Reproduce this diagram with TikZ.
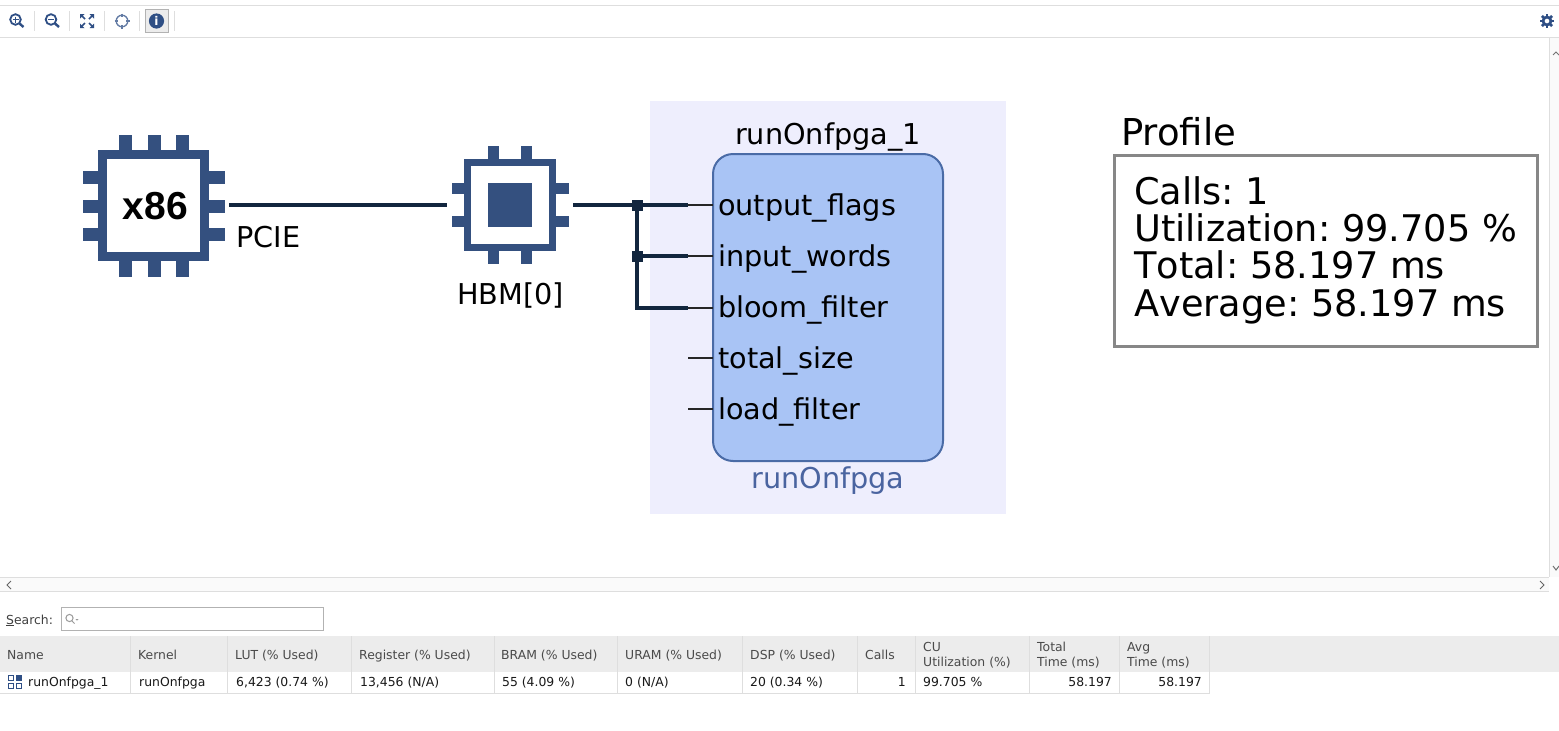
\documentclass[tikz,border=0pt]{standalone}
\usepackage{fontspec}
\setmainfont{DejaVu Sans}
\newfontfamily\archfont{Liberation Sans}
\newfontfamily\nokernfont[Kerning=Off]{DejaVu Sans}
\definecolor{chipblue}{HTML}{34507F}
\definecolor{wirenavy}{HTML}{12263E}
\definecolor{panelbg}{HTML}{EEEEFD}
\definecolor{blockfill}{HTML}{A9C4F5}
\definecolor{blockedge}{HTML}{4A6BA6}
\definecolor{kerneltext}{HTML}{4A64A0}
\definecolor{uiline}{HTML}{DEDEDE}
\definecolor{headbg}{HTML}{ECECEC}
\definecolor{headtext}{HTML}{4A4A4A}
\definecolor{iconblue}{HTML}{2F4F85}
\newcommand{\fsz}[1]{\fontsize{#1}{#1}\selectfont}
\frenchspacing
\tikzset{
  pin/.style={fill=chipblue,draw=none},
  wire/.style={draw=wirenavy,line width=4pt},
  stub/.style={draw=black!85,line width=2pt},
  junction/.style={fill=wirenavy,draw=none,minimum size=11pt,inner sep=0pt,outer sep=0pt},
  portlabel/.style={anchor=base west,inner sep=0pt,font=\fsz{28.7}},
  biglabel/.style={inner sep=0pt,font=\fsz{28.7}},
  tabletext/.style={anchor=base west,inner sep=0pt,font=\fsz{12.4},text=black!90},
  tablehead/.style={anchor=base west,inner sep=0pt,font=\fsz{12.4},text=headtext},
  tablenum/.style={anchor=base east,inner sep=0pt,font=\fsz{12.4},text=black!90},
  sep/.style={draw=uiline,line width=1pt},
  icon/.style={draw=iconblue,line width=1.8pt},
}
\begin{document}
\begin{tikzpicture}[x=1pt,y=-1pt]
\useasboundingbox (0,0) rectangle (1559,731);
\fill[white] (0,0) rectangle (1559,731);
% toolbar
\draw[draw=uiline,line width=1.5pt] (0,5.5) -- (1559,5.5);
\draw[draw=uiline,line width=1.5pt] (0,37.5) -- (1559,37.5);
\foreach \x in {34.5,69.5,104.5,139.5,174.5} \draw[sep] (\x,11) -- (\x,31);
\draw[fill=headbg,draw=black!30,line width=1pt] (145.5,9.5) rectangle (168.5,32.5);
% zoom in
\draw[icon] (15.5,19.5) circle (5.3);
\draw[icon,line width=2.4pt] (19.5,23.5) -- (23.5,27);
\draw[iconblue,line width=1.4pt] (12.5,19.5) -- (18.5,19.5) (15.5,16.5) -- (15.5,22.5);
% zoom out
\draw[icon] (51,19.5) circle (5.3);
\draw[icon,line width=2.4pt] (55,23.5) -- (59,27);
\draw[iconblue,line width=1.4pt] (48,19.5) -- (54,19.5);
% fit
\foreach \sx/\sy in {1/1,1/-1,-1/1,-1/-1}{
  \fill[iconblue] ({87+\sx*7},{21+\sy*7}) -- ({87+\sx*2.5},{21+\sy*7}) -- ({87+\sx*7},{21+\sy*2.5}) -- cycle;
  \draw[iconblue,line width=1.6pt] ({87+\sx*5.5},{21+\sy*5.5}) -- ({87+\sx*2},{21+\sy*2});
}
% crosshair
\draw[draw=iconblue!75,line width=1.3pt] (122,21) circle (5.8);
\draw[draw=iconblue!75,line width=1.3pt] (122,13.5) -- (122,17) (122,25) -- (122,28.5) (114.5,21) -- (118,21) (126,21) -- (129.5,21);
% info
\fill[iconblue] (156.5,21) circle (7.6);
\node[inner sep=0pt,text=white,font=\fsz{12}\bfseries] (infoi) at (156.5,21) {i};
% gear
\fill[iconblue,even odd rule] (1547,21) circle (5.4) (1547,21) circle (2.5);
\foreach \a in {0,45,...,315}
  \fill[iconblue,rotate around={\a:(1547,21)}] (1545.6,13.8) rectangle (1548.4,17);
% scrollbars
\fill[black!2] (1549,38) rectangle (1559,577);
\draw[sep] (1549,38) -- (1549,577);
\draw[draw=black!55,line width=1pt] (1553,55) -- (1556,52) -- (1559,55);
\draw[draw=black!55,line width=1pt] (1553,566) -- (1556,570) -- (1559,566);
\fill[black!2] (0,578) rectangle (1549,591);
\draw[sep] (0,577.5) -- (1549,577.5) (0,591.5) -- (1549,591.5);
\draw[draw=black!60,line width=1pt] (11,581) -- (7,585) -- (11,589);
\draw[draw=black!60,line width=1pt] (1540,581) -- (1544,585) -- (1540,589);
% panel
\fill[panelbg] (650,101) rectangle (1006,514);
% x86 chip
\foreach \x in {119,148,176}{
  \fill[pin] (\x,135) rectangle (\x+13,151);
  \fill[pin] (\x,251) rectangle (\x+13,277);
}
\foreach \y in {171,200,228}{
  \fill[pin] (83,\y) rectangle (99,\y+13);
  \fill[pin] (208,\y) rectangle (225,\y+13);
}
\node[draw=chipblue,fill=white,line width=9pt,minimum size=102pt,inner sep=0pt,outer sep=0pt] (x86) at (153.5,205.5) {};
\node[inner sep=0pt,font=\archfont\bfseries\fsz{39}] (x86text) at (155.5,206.5) {x86};
% HBM chip
\foreach \x in {488,521}{
  \fill[pin] (\x,146) rectangle (\x+11,160);
  \fill[pin] (\x,250) rectangle (\x+11,264);
}
\foreach \y in {183,216}{
  \fill[pin] (452,\y) rectangle (465,\y+11);
  \fill[pin] (555,\y) rectangle (569,\y+11);
}
\node[draw=chipblue,fill=white,line width=7pt,minimum size=85pt,inner sep=0pt,outer sep=0pt] (hbm) at (510,205) {};
\node[fill=chipblue,draw=none,minimum size=44pt,inner sep=0pt] (hbmcore) at (510,205) {};
% labels of chips
\node[anchor=base west,biglabel] (pcielabel) at (236,247) {PCIE};
\node[anchor=base,biglabel] (hbmlabel) at (510.5,304) {HBM[0]};
% kernel block
\node[draw=blockedge,fill=blockfill,line width=2pt,rounded corners=20pt,minimum width=230pt,minimum height=307pt,inner sep=0pt,outer sep=0pt] (block) at (828,307.5) {};
\node[anchor=base,biglabel] (inst) at (828,144) {runOnfpga\_1};
\node[anchor=base,biglabel,text=kerneltext] (kern) at (828,488) {runOnfpga};
% ports
\node[portlabel] (pa) at (718,215) {output\_flags};
\node[portlabel] (pb) at (718,266) {input\_words};
\node[portlabel] (pc) at (718,317) {bloom\_filter};
\node[portlabel] (pd) at (718,368) {total\_size};
\node[portlabel] (pe) at (718,419) {load\_filter};
\coordinate (sa) at (688,205);
\coordinate (sb) at (688,256);
\coordinate (sc) at (688,307.5);
\coordinate (sd) at (688,358);
\coordinate (se) at (688,409);
\foreach \s in {sa,sb,sc,sd,se} \draw[stub] (\s) -- (\s -| block.west);
% wires
\coordinate (pcieA) at (229,205);
\coordinate (pcieB) at (447,205);
\coordinate (hbmout) at (573,205);
\coordinate (elbow) at (637,307.5);
\node[junction] (j1) at (637,205) {};
\node[junction] (j2) at (637,256) {};
\draw[wire] (pcieA) -- (pcieB);
\draw[wire] (hbmout) -- (sa);
\draw[wire] (j2.center) -- (sb);
\draw[wire,line join=miter] (j1.center) -- (elbow) -- (sc);
% profile
\node[anchor=base west,inner sep=0pt,font=\fsz{37}] (proftitle) at (1121,145) {Profile};
\node[draw=black!47,line width=3pt,minimum width=423pt,minimum height=191pt,inner sep=0pt,outer sep=0pt] (profbox) at (1326,251) {};
\node[anchor=base west,inner sep=0pt,align=left,font=\nokernfont\fontsize{36.7}{37.3}\selectfont] (profbody) at (1134,316) {Calls: 1\\Utilization: 99.705 \%\\Total: 58.197 ms\\Average: 58.197 ms};
% search
\node[anchor=base west,inner sep=0pt,font=\fsz{12.4},text=black!75] (searchlbl) at (6,624) {\underline{S}earch:};
\node[draw=black!30,line width=1pt,minimum width=262pt,minimum height=23pt,inner sep=0pt,outer sep=0pt] (searchbox) at (192,618.5) {};
\draw[draw=black!40,line width=1pt] (69.5,618) circle (3.6) (72,621) -- (74.5,623.5);
\fill[black!40] (75.5,619) -- (78.5,619) -- (77,620.5) -- cycle;
% table
\fill[headbg] (0,636) rectangle (1559,672);
\foreach \x in {130.5,227.5,351.5,494.5,617.5,742.5,857.5,915.5,1029.5,1119.5,1209.5}
  \draw[sep] (\x,636) -- (\x,693);
\draw[sep] (0,693.5) -- (1210,693.5);
\node[tablehead] (h1) at (7,659) {Name};
\node[tablehead] (h2) at (138,659) {Kernel};
\node[tablehead] (h3) at (235,659) {LUT (\% Used)};
\node[tablehead] (h4) at (359,659) {Register (\% Used)};
\node[tablehead] (h5) at (501,659) {BRAM (\% Used)};
\node[tablehead] (h6) at (625,659) {URAM (\% Used)};
\node[tablehead] (h7) at (750,659) {DSP (\% Used)};
\node[tablehead] (h8) at (865,659) {Calls};
\node[tablehead] (h9a) at (923,651) {CU};
\node[tablehead] (h9b) at (923,666) {Utilization (\%)};
\node[tablehead] (h10a) at (1037,651) {Total};
\node[tablehead] (h10b) at (1037,666) {Time (ms)};
\node[tablehead] (h11a) at (1127,651) {Avg};
\node[tablehead] (h11b) at (1127,666) {Time (ms)};
\draw[draw=iconblue,line width=1pt] (8.5,675.5) rectangle (13.5,680.5) (8.5,683.5) rectangle (13.5,688.5) (16.5,683.5) rectangle (21.5,688.5);
\fill[iconblue] (16,675) rectangle (22,681);
\node[tabletext] (c1) at (28,686) {runOnfpga\_1};
\node[tabletext] (c2) at (139,686) {runOnfpga};
\node[tabletext] (c3) at (236,686) {6,423 (0.74 \%)};
\node[tabletext] (c4) at (360,686) {13,456 (N/A)};
\node[tabletext] (c5) at (502,686) {55 (4.09 \%)};
\node[tabletext] (c6) at (625,686) {0 (N/A)};
\node[tabletext] (c7) at (750,686) {20 (0.34 \%)};
\node[tablenum] (c8) at (906,686) {1};
\node[tabletext] (c9) at (923,686) {99.705 \%};
\node[tablenum] (c10) at (1112,686) {58.197};
\node[tablenum] (c11) at (1202,686) {58.197};
\end{tikzpicture}
\end{document}
